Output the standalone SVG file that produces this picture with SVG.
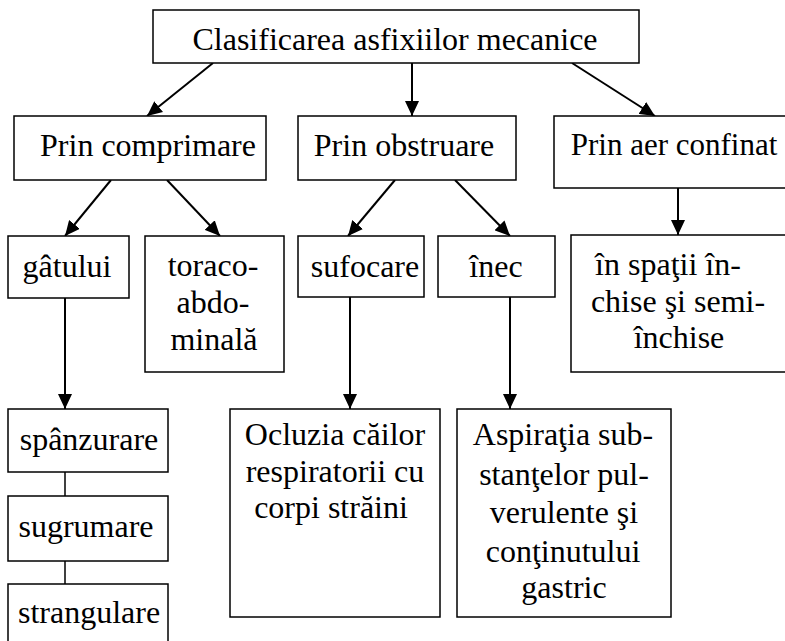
<svg xmlns="http://www.w3.org/2000/svg" width="785" height="641" viewBox="0 0 785 641">
<style>
rect{fill:#fff;stroke:#000;stroke-width:1.5}
text{fill:#000;text-anchor:middle;font-family:"Liberation Serif","Times New Roman",serif;font-size:32px}
.c line{stroke:#000;stroke-width:2}
</style>
<defs>
<marker id="ah" viewBox="0 0 15 14" refX="15" refY="7" markerWidth="15" markerHeight="14" markerUnits="userSpaceOnUse" orient="auto">
<path d="M0,0 L15,7 L0,14 Z" fill="#000"/>
</marker>
</defs>
<rect width="785" height="641" style="stroke:none"/>
<g class="c">
<line x1="213" y1="63" x2="147" y2="116" marker-end="url(#ah)"/>
<line x1="412" y1="63" x2="412" y2="116" marker-end="url(#ah)"/>
<line x1="572" y1="63" x2="655" y2="116" marker-end="url(#ah)"/>
<line x1="111" y1="180" x2="65" y2="236" marker-end="url(#ah)"/>
<line x1="167" y1="180" x2="220" y2="236" marker-end="url(#ah)"/>
<line x1="395" y1="180" x2="348" y2="236" marker-end="url(#ah)"/>
<line x1="455" y1="180" x2="510" y2="236" marker-end="url(#ah)"/>
<line x1="678" y1="188" x2="678" y2="235" marker-end="url(#ah)"/>
<line x1="65" y1="298" x2="65" y2="409" marker-end="url(#ah)"/>
<line x1="350" y1="297" x2="350" y2="409" marker-end="url(#ah)"/>
<line x1="510" y1="297" x2="510" y2="409" marker-end="url(#ah)"/>
<line x1="65" y1="472" x2="65" y2="496" style="stroke-width:1.5"/>
<line x1="65" y1="561" x2="65" y2="584" style="stroke-width:1.5"/>
</g>
<g id="root"><rect x="153" y="10" width="486" height="53"/><text x="395" y="50">Clasificarea asfixiilor mecanice</text></g>
<g id="comprimare"><rect x="14" y="116" width="252" height="64"/><text x="148" y="156">Prin comprimare</text></g>
<g id="obstruare"><rect x="298" y="116" width="218" height="64"/><text x="404" y="156">Prin obstruare</text></g>
<g id="aer"><rect x="554" y="116" width="232" height="72"/><text x="674" y="155" style="font-size:31px">Prin aer confinat</text></g>
<g id="gatului"><rect x="8" y="236" width="121" height="62"/><text x="67" y="277">gâtului</text></g>
<g id="toraco"><rect x="145" y="236" width="139" height="136"/><text x="213" y="276">toraco-</text><text x="213" y="313">abdo-</text><text x="214" y="350">minală</text></g>
<g id="sufocare"><rect x="298" y="236" width="126" height="61"/><text x="365" y="277">sufocare</text></g>
<g id="inec"><rect x="438" y="236" width="117" height="61"/><text x="496" y="277">înec</text></g>
<g id="spatii"><rect x="571" y="235" width="215" height="137"/><text x="668" y="275">în spaţii în-</text><text x="678" y="312">chise şi semi-</text><text x="679" y="348">închise</text></g>
<g id="spanzurare"><rect x="8" y="409" width="160" height="63"/><text x="89" y="450">spânzurare</text></g>
<g id="sugrumare"><rect x="8" y="496" width="160" height="65"/><text x="86" y="537">sugrumare</text></g>
<g id="strangulare"><rect x="8" y="584" width="160" height="62"/><text x="89" y="623">strangulare</text></g>
<g id="ocluzia"><rect x="230" y="409" width="210" height="208"/><text x="335" y="445">Ocluzia căilor</text><text x="335" y="482">respiratorii cu</text><text x="331" y="518">corpi străini</text></g>
<g id="aspiratia"><rect x="457" y="409" width="214" height="208"/><text x="563" y="445">Aspiraţia sub-</text><text x="564" y="485">stanţelor pul-</text><text x="564" y="523">verulente şi</text><text x="563" y="562">conţinutului</text><text x="564" y="598">gastric</text></g>
</svg>
